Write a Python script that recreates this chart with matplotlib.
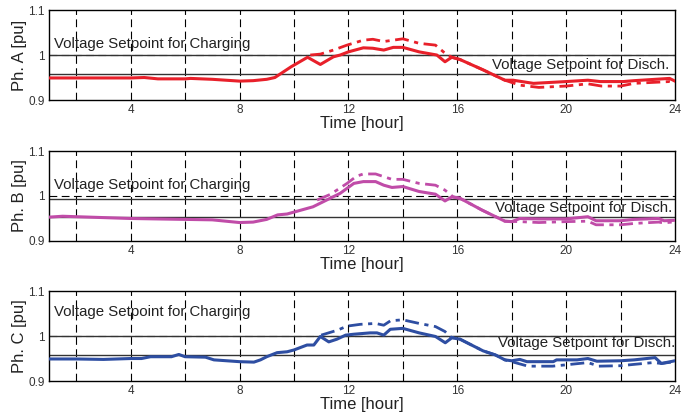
import matplotlib
matplotlib.use("Agg")
import matplotlib.pyplot as plt

plt.rcParams['font.family'] = ['Liberation Sans', 'DejaVu Sans']

# solid traces (hour, pu)
hours_a = [1, 2, 3, 4, 4.5, 5, 6, 6.2, 7, 8, 8.5, 9, 9.3, 9.9, 10.5, 10.97, 11.45, 11.7, 12,
           12.55, 12.9, 13.3, 13.65, 14.0, 14.6, 15.25, 15.55, 15.8, 16.1, 16.95, 17.75,
           18.05, 18.8, 20.0, 20.8, 21.25, 22.1, 22.5, 23.8, 24]
ph_a = [0.949, 0.949, 0.949, 0.949, 0.950, 0.947, 0.947, 0.948, 0.946, 0.942, 0.943, 0.946,
        0.950, 0.974, 0.995, 0.979, 0.996, 1.000, 1.007, 1.016, 1.015, 1.011, 1.017, 1.017,
        1.007, 1.000, 0.985, 0.995, 0.990, 0.967, 0.944, 0.944, 0.937, 0.941, 0.944, 0.941,
        0.941, 0.943, 0.948, 0.942]
hours_b = [1, 1.5, 4, 6, 7, 8, 8.5, 9.0, 9.4, 9.75, 10.7, 11.2, 11.7, 12.2, 12.55, 13.0,
           13.3, 13.6, 14.0, 14.6, 15.2, 15.55, 15.8, 16.1, 16.9, 17.75, 18.0, 18.3, 19,
           20, 20.8, 21.1, 22, 22.5, 23.4, 23.6, 24]
ph_b = [0.953, 0.955, 0.950, 0.948, 0.947, 0.941, 0.942, 0.948, 0.958, 0.960, 0.976, 0.991,
        1.006, 1.028, 1.032, 1.032, 1.024, 1.019, 1.021, 1.010, 1.004, 0.989, 0.998, 0.995,
        0.969, 0.944, 0.943, 0.950, 0.949, 0.949, 0.954, 0.945, 0.945, 0.948, 0.950, 0.945,
        0.946]
hours_c = [1, 2, 3, 4, 4.4, 4.73, 5.5, 5.77, 6.0, 6.75, 7.06, 8, 8.53, 8.77, 9.0, 9.38,
           9.75, 10.0, 10.48, 10.73, 10.97, 11.28, 11.58, 11.9, 12.2, 12.8, 13.05, 13.3,
           13.54, 14.0, 14.6, 15.2, 15.56, 15.8, 16.1, 16.95, 17.4, 17.75, 18.0, 18.3,
           18.56, 19.53, 19.65, 20.4, 20.8, 21.13, 22, 22.5, 23.27, 23.5, 24]
ph_c = [0.949, 0.949, 0.948, 0.950, 0.950, 0.954, 0.954, 0.959, 0.954, 0.953, 0.947, 0.943,
        0.942, 0.947, 0.954, 0.963, 0.965, 0.969, 0.980, 0.980, 0.999, 0.987, 0.993, 1.002,
        1.004, 1.007, 1.007, 1.002, 1.015, 1.017, 1.007, 0.999, 0.985, 0.996, 0.993, 0.967,
        0.958, 0.947, 0.945, 0.948, 0.943, 0.943, 0.947, 0.947, 0.950, 0.944, 0.945, 0.947,
        0.952, 0.939, 0.945]

# dash-dot traces (hour, pu)
hours_a2 = [10.6, 10.97, 11.45, 11.95, 12.55, 12.9, 13.3, 13.65, 14.0, 14.6, 15.2, 15.55,
            15.8, 16.1, 16.95, 17.75, 18.3, 19, 20, 20.8, 21.3, 22, 22.5, 23.8, 24]
ph_a2 = [1.000, 1.002, 1.011, 1.022, 1.033, 1.035, 1.030, 1.033, 1.036, 1.026, 1.022, 1.004,
         0.995, 0.990, 0.967, 0.944, 0.933, 0.928, 0.931, 0.936, 0.931, 0.931, 0.937, 0.941,
         0.938]
hours_b2 = [10.85, 11.35, 11.95, 12.3, 12.55, 13.0, 13.3, 13.6, 14.0, 14.6, 15.2, 15.55,
            15.85, 16.1, 16.9, 17.75, 18.3, 19, 20, 20.8, 21.1, 22, 22.5, 23.4, 23.6, 24]
ph_b2 = [0.991, 1.004, 1.028, 1.044, 1.049, 1.049, 1.043, 1.037, 1.037, 1.028, 1.024, 1.013,
         0.998, 0.995, 0.969, 0.944, 0.943, 0.941, 0.943, 0.944, 0.936, 0.936, 0.939, 0.942,
         0.940, 0.943]
hours_c2 = [11.0, 11.6, 11.95, 12.44, 13.0, 13.3, 13.55, 14.0, 14.6, 15.2, 15.55, 15.75,
            16.1, 16.95, 17.4, 17.75, 18.0, 18.6, 19.5, 20, 20.8, 21.2, 22, 22.5, 23.2, 23.5,
            24]
ph_c2 = [1.002, 1.013, 1.022, 1.026, 1.028, 1.024, 1.034, 1.036, 1.028, 1.021, 1.010, 0.998,
         0.993, 0.967, 0.958, 0.947, 0.943, 0.933, 0.933, 0.936, 0.941, 0.933, 0.934, 0.937,
         0.941, 0.939, 0.943]

phases = ['Ph. A [pu]', 'Ph. B [pu]', 'Ph. C [pu]']
colors = ['#e8202a', '#c04ca8', '#2e4ea2']
charge_sp = [1.0, 0.994, 1.0]
disch_sp = [0.958, 0.953, 0.957]
charge_txt_y = [1.024, 1.024, 1.054]
disch_txt_y = [0.978, 0.973, 0.984]

solid = [(hours_a, ph_a), (hours_b, ph_b), (hours_c, ph_c)]
dashdot = [(hours_a2, ph_a2), (hours_b2, ph_b2), (hours_c2, ph_c2)]

fig = plt.figure(figsize=(6.92, 4.16), dpi=100)
bottoms = [0.7596, 0.4207, 0.0841]

for i in range(3):
    ax = fig.add_axes([0.0708, bottoms[i], 0.9046, 0.2163])
    ax.set_xlim(1, 24)
    ax.set_ylim(0.9, 1.1)
    for h in range(2, 24, 2):
        ax.axvline(h, color='k', lw=0.8, ls=(0, (7, 4)), zorder=1)
    ax.axhline(1.0, color='k', lw=0.8, ls=(0, (7, 4)), zorder=1)
    ax.axhline(charge_sp[i], color='#333333', lw=1.0, zorder=2)
    ax.axhline(disch_sp[i], color='#333333', lw=1.0, zorder=2)
    ax.plot(*solid[i], color=colors[i], lw=2.2, zorder=4)
    ax.plot(*dashdot[i], color=colors[i], lw=2.0, ls=(0, (5, 2, 1.5, 2)), zorder=3)
    ax.text(1.2, charge_txt_y[i], 'Voltage Setpoint for Charging', fontsize=10.8,
            va='center', ha='left', color='#222222')
    ax.text(23.8 + 0.1 * i, disch_txt_y[i], 'Voltage Setpoint for Disch.', fontsize=10.8,
            va='center', ha='right', color='#222222')
    ax.set_xticks(range(2, 25, 2))
    ax.set_xticklabels(['' if h % 4 else str(h) for h in range(2, 25, 2)])
    ax.set_yticks([0.9, 1.0, 1.1])
    ax.set_yticklabels(['0.9', '1', '1.1'])
    ax.tick_params(direction='in', length=0, labelsize=8.5, labelcolor='#333333', pad=3)
    ax.set_xlabel('Time [hour]', fontsize=12, labelpad=0, color='#222222')
    ax.set_ylabel(phases[i], fontsize=12, labelpad=1, color='#222222')
    for s in ax.spines.values():
        s.set_linewidth(1.0)

fig.savefig('out.png', dpi=100)
